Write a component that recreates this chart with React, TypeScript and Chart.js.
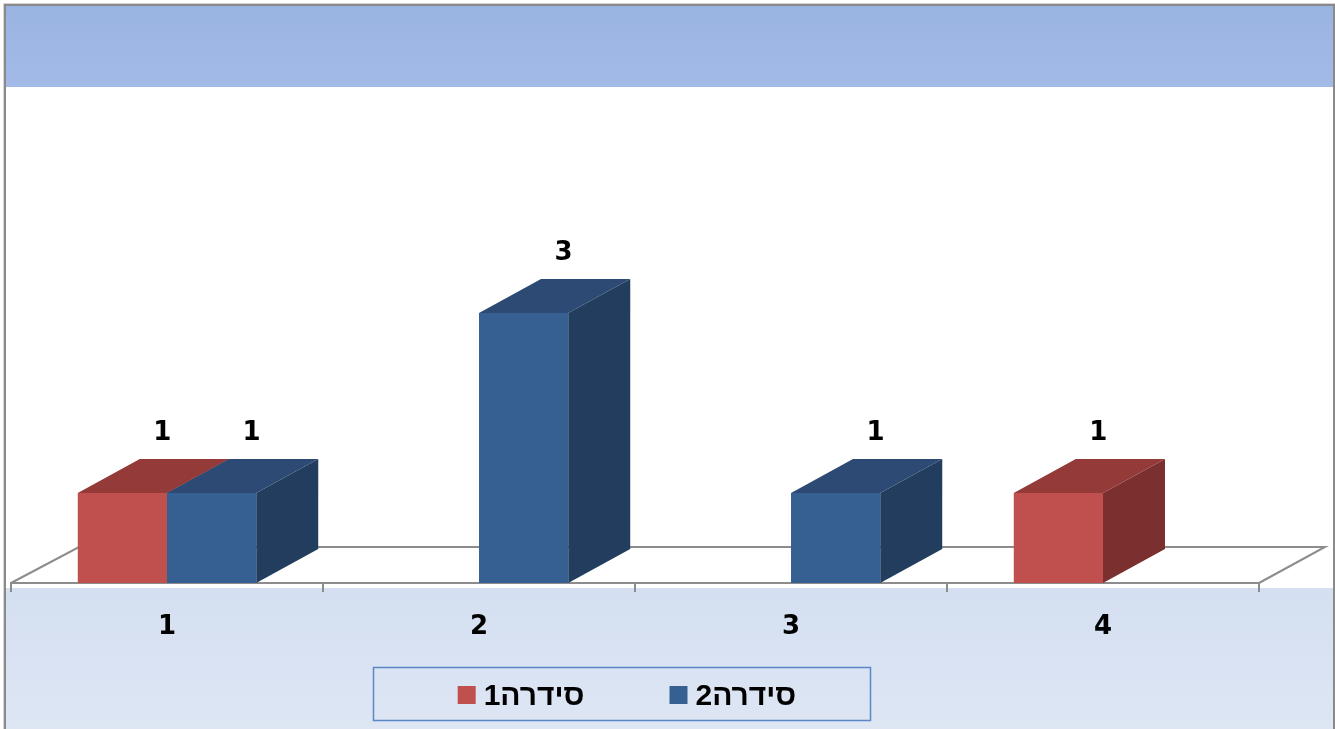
import React, { useEffect, useRef } from "react";
import { Chart, registerables } from "chart.js";

Chart.register(...registerables);

const categories = ["1", "2", "3", "4"];
const series1 = [1, null, null, 1];
const series2 = [1, 3, 1, null];
const seriesNames = ["סידרה1", "סידרה2"];

const frontColors = ["#C0504D", "#376092"];
const topColors = ["#943B39", "#2C4A73"];
const sideColors = ["#7B2F2E", "#223D5E"];

const FONT = "'DejaVu Sans', 'Liberation Sans', sans-serif";
const LEGEND_FONT = "'Liberation Sans', Arial, sans-serif";
const DX = 62;
const DY = 34;
const FLOOR_DX = 68;
const FLOOR_DY = 36;

const threeD = {
  id: "threeD",
  beforeDraw(chart: any) {
    const ctx = chart.ctx;
    const W = chart.width;
    const H = chart.height;
    ctx.save();
    ctx.fillStyle = "#FFFFFF";
    ctx.fillRect(0, 0, W, H);
    let g = ctx.createLinearGradient(0, 7, 0, 87);
    g.addColorStop(0, "#9AB4E2");
    g.addColorStop(1, "#A3BAE7");
    ctx.fillStyle = g;
    ctx.fillRect(6, 6, W - 6, 81);
    g = ctx.createLinearGradient(0, 588, 0, H);
    g.addColorStop(0, "#D4DFF1");
    g.addColorStop(1, "#DEE6F4");
    ctx.fillStyle = g;
    ctx.fillRect(6, 588, W - 6, H - 588);
    ctx.strokeStyle = "#D6D6D6";
    ctx.lineWidth = 1;
    ctx.strokeRect(3.5, 3.5, W - 4, H + 10);
    ctx.strokeStyle = "#8A8A8A";
    ctx.lineWidth = 2;
    ctx.strokeRect(5, 5, W - 6, H + 10);
    ctx.restore();
  },
  beforeDatasetsDraw(chart: any) {
    const ctx = chart.ctx;
    const a = chart.chartArea;
    ctx.save();
    ctx.strokeStyle = "#8C8C8C";
    ctx.lineWidth = 2;
    ctx.beginPath();
    ctx.moveTo(a.left, a.bottom);
    ctx.lineTo(a.left + FLOOR_DX, a.bottom - FLOOR_DY);
    ctx.lineTo(a.right + FLOOR_DX - 2, a.bottom - FLOOR_DY);
    ctx.lineTo(a.right, a.bottom);
    ctx.stroke();
    chart.data.datasets.forEach((ds: any, di: number) => {
      const meta = chart.getDatasetMeta(di);
      meta.data.forEach((bar: any, i: number) => {
        const v = ds.data[i];
        if (v === null || v === undefined) return;
        const p = bar.getProps(["x", "y", "base", "width"], true);
        const l = p.x - p.width / 2;
        const r = p.x + p.width / 2;
        const top = Math.min(p.y, p.base);
        const bot = Math.max(p.y, p.base);
        ctx.fillStyle = sideColors[di];
        ctx.beginPath();
        ctx.moveTo(r, top);
        ctx.lineTo(r + DX, top - DY);
        ctx.lineTo(r + DX, bot - DY);
        ctx.lineTo(r, bot);
        ctx.closePath();
        ctx.fill();
        ctx.fillStyle = topColors[di];
        ctx.beginPath();
        ctx.moveTo(l, top);
        ctx.lineTo(r, top);
        ctx.lineTo(r + DX, top - DY);
        ctx.lineTo(l + DX, top - DY);
        ctx.closePath();
        ctx.fill();
      });
    });
    ctx.restore();
  },
  afterDatasetsDraw(chart: any) {
    const ctx = chart.ctx;
    ctx.save();
    ctx.fillStyle = "#000";
    ctx.font = `bold 26px ${FONT}`;
    ctx.textAlign = "center";
    ctx.textBaseline = "middle";
    chart.data.datasets.forEach((ds: any, di: number) => {
      const meta = chart.getDatasetMeta(di);
      meta.data.forEach((bar: any, i: number) => {
        const v = ds.data[i];
        if (v === null || v === undefined) return;
        const p = bar.getProps(["x", "y"], true);
        ctx.fillText(String(v), p.x + 40, p.y - 60);
      });
    });
    ctx.restore();
  },
  afterDraw(chart: any) {
    const ctx = chart.ctx;
    ctx.save();
    ctx.strokeStyle = "#5B87C6";
    ctx.lineWidth = 1.5;
    ctx.strokeRect(373.5, 667.5, 497, 53);
    ctx.font = `bold 30px ${LEGEND_FONT}`;
    ctx.direction = "rtl";
    ctx.textAlign = "left";
    ctx.textBaseline = "alphabetic";
    const box = 18;
    const gapText = 8;
    const gapItem = 85;
    const widths = chart.data.datasets.map(
      (ds: any) => box + gapText + ctx.measureText(ds.label).width
    );
    const total =
      widths.reduce((s: number, w: number) => s + w, 0) +
      gapItem * (widths.length - 1);
    let x = 627 - total / 2;
    chart.data.datasets.forEach((ds: any, di: number) => {
      ctx.fillStyle = ds.backgroundColor;
      ctx.fillRect(x, 686, box, box);
      ctx.fillStyle = "#000";
      ctx.fillText(ds.label, x + box + gapText, 705);
      x += widths[di] + gapItem;
    });
    ctx.restore();
  },
};

export default function App() {
  const ref = useRef<HTMLCanvasElement | null>(null);
  useEffect(() => {
    if (!ref.current) return;
    const chart = new Chart(ref.current, {
      type: "bar",
      data: {
        labels: categories,
        datasets: [
          {
            label: seriesNames[0],
            data: series1,
            backgroundColor: frontColors[0],
            borderWidth: 0,
          },
          {
            label: seriesNames[1],
            data: series2,
            backgroundColor: frontColors[1],
            borderWidth: 0,
          },
        ],
      },
      options: {
        responsive: false,
        animation: false,
        devicePixelRatio: 1,
        categoryPercentage: 0.572,
        barPercentage: 1,
        layout: { padding: { left: 11, right: 76, top: 133, bottom: 0 } },
        plugins: {
          legend: { display: false },
          tooltip: { enabled: false },
        },
        scales: {
          x: {
            type: "category",
            grid: {
              offset: true,
              drawOnChartArea: false,
              drawTicks: true,
              tickLength: 9,
              color: "#8C8C8C",
              lineWidth: 2,
            },
            border: { display: true, color: "#8C8C8C", width: 2 },
            ticks: {
              color: "#000",
              font: { family: FONT, size: 26, weight: "bold" },
              padding: 20,
              maxRotation: 0,
            },
            afterFit: (s: any) => {
              s.height = 146;
            },
          },
          y: { display: false, min: 0, max: 5 },
        },
      },
      plugins: [threeD],
    } as any);
    return () => chart.destroy();
  }, []);
  return (
    <div style={{ position: "fixed", left: 0, top: 0, width: 1335, height: 729 }}>
      <canvas ref={ref} width={1335} height={729} style={{ display: "block" }} />
    </div>
  );
}
